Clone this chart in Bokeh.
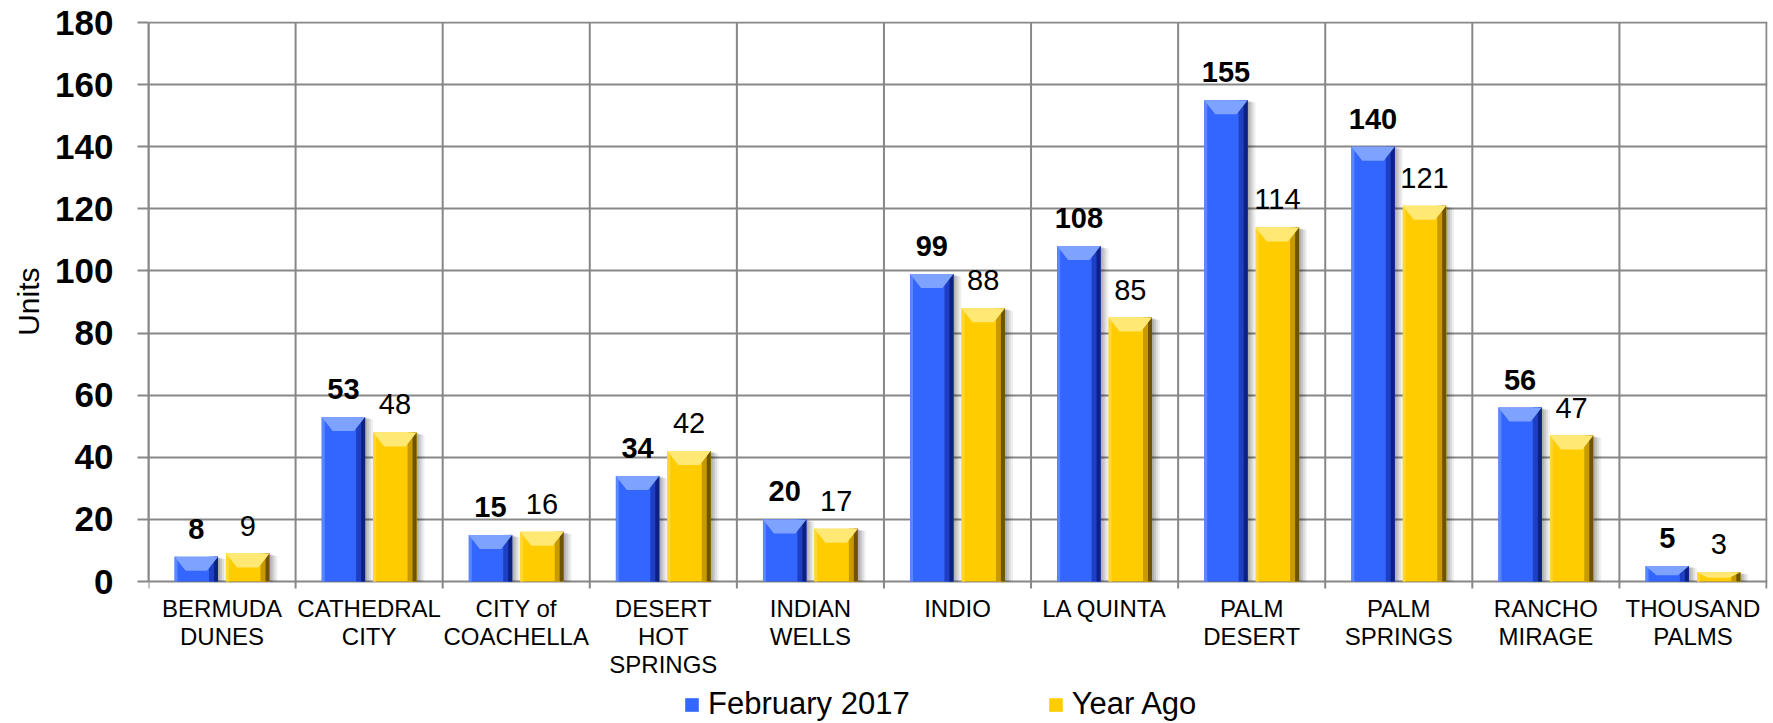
from bokeh.plotting import figure
from bokeh.models import FixedTicker, Range1d, Legend, LegendItem, ColumnDataSource, Title
from bokeh.embed import file_html
from bokeh.resources import INLINE
from bokeh.core.properties import value

# ---------------- data ----------------
categories = ["BERMUDA\nDUNES", "CATHEDRAL\nCITY", "CITY of\nCOACHELLA", "DESERT\nHOT\nSPRINGS",
              "INDIAN\nWELLS", "INDIO", "LA QUINTA", "PALM\nDESERT", "PALM\nSPRINGS",
              "RANCHO\nMIRAGE", "THOUSAND\nPALMS"]
feb_2017 = [8, 53, 15, 34, 20, 99, 108, 155, 140, 56, 5]
year_ago = [9, 48, 16, 42, 17, 88, 85, 114, 121, 47, 3]
series_names = ["February 2017", "Year Ago"]
y_ticks = [0, 20, 40, 60, 80, 100, 120, 140, 160, 180]
y_title = "Units"

# ---------------- layout constants ----------------
W, H = 1773, 723
L, R, T = 148, 7, 22
AXIS_Y = 581                    # pixel row of the value axis zero line
FONT = "Liberation Sans"
GRID = "#878787"
n = len(categories)
ymax = y_ticks[-1]
px_x = (W - L - R) / n                  # pixels per x unit
px_y = (AXIS_Y - T) / ymax              # pixels per y unit
y_bottom = -(H - AXIS_Y) / px_y         # frame extends to the bottom of the page

p = figure(width=W, height=H,
           x_range=Range1d(0, n + 1 / px_x), y_range=Range1d(y_bottom, ymax + 1 / px_y),
           output_backend="svg", toolbar_location=None, x_axis_location=None,
           min_border_left=L, min_border_right=R - 1, min_border_top=T - 1, min_border_bottom=0)
p.background_fill_color = "white"
p.border_fill_color = "white"
p.outline_line_color = None

# horizontal grid
p.xgrid.visible = False
p.ygrid.ticker = FixedTicker(ticks=y_ticks)
p.ygrid.grid_line_color = GRID
p.ygrid.grid_line_width = 2

# vertical category separators (with the small tick below the axis)
bounds = list(range(n + 1))
p.segment(x0=bounds, x1=bounds, y0=[-7 / px_y] * len(bounds), y1=[ymax] * len(bounds),
          line_color=GRID, line_width=2)

# y axis
yax = p.yaxis[0]
yax.ticker = FixedTicker(ticks=y_ticks)
yax.bounds = (0, ymax)
yax.major_tick_out = 11
yax.major_tick_in = 0
yax.minor_tick_out = 0
yax.minor_tick_in = 0
yax.major_tick_line_color = GRID
yax.major_tick_line_width = 2
yax.axis_line_color = GRID
yax.axis_line_width = 2
yax.major_label_standoff = 24
yax.major_label_text_font = FONT
yax.major_label_text_font_size = "35px"
yax.major_label_text_font_style = "bold"
yax.major_label_text_color = "black"

# y axis title, placed level with the value range
ytitle = Title(text=y_title, align="right", vertical_align="bottom", offset=246, standoff=16,
               text_font=FONT, text_font_size="30px", text_font_style="normal",
               text_color="black")
p.add_layout(ytitle, "left")

# category labels
centers = [i + 0.5 for i in range(n)]
p.text(x=centers, y=[0] * n, text=categories, text_align="center", text_baseline="top",
       y_offset=13, text_font=value(FONT), text_font_size="24px", text_line_height=1.05,
       text_color="black")

# ---------------- bars ----------------
bar_w = 0.295
offsets = [-0.175, 0.175]
styles = [
    dict(main="#3366FF", light="#5a86ff", top="#7ea2ff", dark1="#1e3fc4", dark2="#0d2280"),
    dict(main="#FFCC00", light="#ffd633", top="#ffe873", dark1="#c99a00", dark2="#6e5300"),
]
bev_x = 11 / px_x
bev_y = 14 / px_y
strip_l = 3 / px_x
strip_r1 = 9 / px_x
strip_r2 = 4 / px_x

legend_items = []
for s, (vals, off, st, name) in enumerate(zip([feb_2017, year_ago], offsets, styles, series_names)):
    xc = [c + off for c in centers]
    xl = [x - bar_w / 2 for x in xc]
    xr = [x + bar_w / 2 for x in xc]
    # soft shadow
    for k, a in [(8, 0.06), (6, 0.08), (4, 0.10), (2, 0.10)]:
        p.quad(left=[x + (k - 1) / px_x for x in xl], right=[x + k / px_x for x in xr],
               bottom=[0] * n, top=[v - k * 0.3 / px_y for v in vals],
               fill_color="black", fill_alpha=a, line_color=None)
    body = p.quad(left=xl, right=xr, bottom=[0] * n, top=vals,
                  fill_color=st["main"], line_color=None)
    p.quad(left=xl, right=[x + strip_l for x in xl], bottom=[0] * n, top=vals,
           fill_color=st["light"], line_color=None)
    p.quad(left=[x - strip_r1 for x in xr], right=xr, bottom=[0] * n, top=vals,
           fill_color=st["dark1"], line_color=None)
    p.quad(left=[x - strip_r2 for x in xr], right=xr, bottom=[0] * n, top=vals,
           fill_color=st["dark2"], line_color=None)
    # top bevel trapezoid
    xs, ys = [], []
    for a_, b_, v in zip(xl, xr, vals):
        h = min(bev_y, v * 0.6)
        xs.append([a_, b_, b_ - bev_x, a_ + bev_x])
        ys.append([v, v, v - h, v - h])
    p.patches(xs=xs, ys=ys, fill_color=st["top"], line_color=None)
    # data labels
    src = ColumnDataSource(dict(x=xc, y=vals, t=[str(v) for v in vals]))
    p.text(x="x", y="y", text="t", source=src, text_align="center", text_baseline="bottom",
           y_offset=-18, text_font=value(FONT), text_font_size="29px",
           text_font_style="bold" if s == 0 else "normal", text_color="black")
    legend_items.append(LegendItem(label=name, renderers=[body]))

legend = Legend(items=legend_items, orientation="horizontal",
                location=(535, 1), padding=0, margin=0, spacing=137,
                glyph_width=17, glyph_height=17, label_standoff=8,
                label_text_font=FONT, label_text_font_size="31px", label_text_color="black",
                border_line_alpha=0, background_fill_alpha=0)
p.add_layout(legend)

open("out.html", "w").write(file_html(p, INLINE))
